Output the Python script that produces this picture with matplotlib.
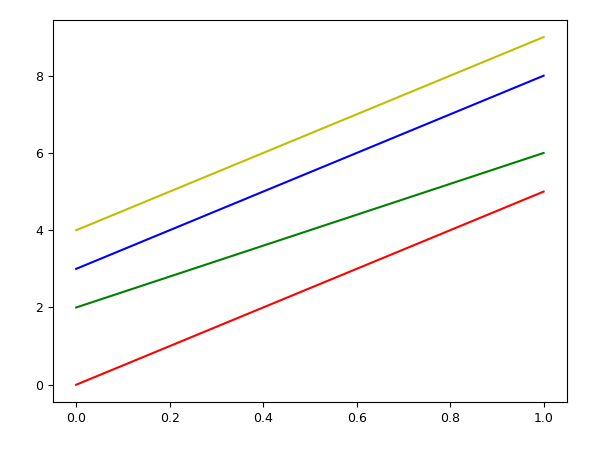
import matplotlib
matplotlib.use("Agg")
import matplotlib.pyplot as plt

x = [0, 1]
red = [0, 5]
green = [2, 6]
blue = [3, 8]
yellow = [4, 9]

fig = plt.figure(figsize=(6, 4.58), dpi=100)
ax = fig.add_axes([0.088, 0.122, 0.857, 0.835])

ax.plot(x, red, color="r")
ax.plot(x, green, color="g")
ax.plot(x, blue, color="b")
ax.plot(x, yellow, color="y")

ax.tick_params(labelsize=9)

fig.savefig("out.png", dpi=100)
